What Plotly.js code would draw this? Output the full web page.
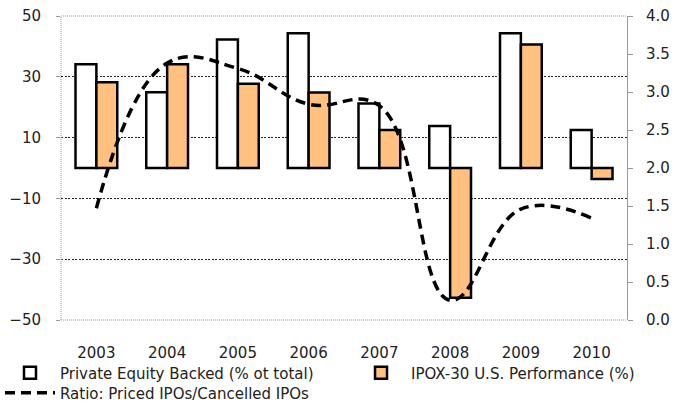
<!DOCTYPE html>
<html>
<head>
<meta charset="utf-8">
<script src="https://cdn.plot.ly/plotly-3.0.1.min.js"></script>
<style>html,body{margin:0;padding:0;background:#fff;}#chart{width:683px;height:404px;}</style>
</head>
<body>
<div id="chart"></div>
<script>
var years = ['2003','2004','2005','2006','2007','2008','2009','2010'];
var privateEquity = [34.1, 24.9, 42.3, 44.3, 21.2, 13.8, 44.3, 12.5];
var ipoxPerformance = [28.2, 34.1, 27.7, 24.8, 12.5, -42.7, 40.6, -3.6];
var ratioPricedCancelled = [1.47, 3.38, 3.31, 2.84, 2.82, 0.26, 1.46, 1.34];

var boundaries = years.slice(0, -1).map(function (_, i) { return i + 0.5; });

var fam = 'DejaVu Sans, Verdana, sans-serif';
var tickFont = {family: fam, size: 15, color: '#222'};
var legFont = {family: fam, size: 15, color: '#222'};

var traces = [
  {type: 'bar', x: years, y: privateEquity, name: 'Private Equity Backed (% ot total)',
   marker: {color: '#ffffff', line: {color: '#000', width: 2.5}}, yaxis: 'y', legend: 'legend'},
  {type: 'bar', x: years, y: ipoxPerformance, name: 'IPOX-30 U.S. Performance (%)',
   marker: {color: '#FFC080', line: {color: '#000', width: 2.5}}, yaxis: 'y', legend: 'legend2'},
  {type: 'scatter', mode: 'lines', x: years, y: ratioPricedCancelled, name: 'Ratio: Priced IPOs/Cancelled IPOs',
   line: {color: '#000', width: 3.5, dash: '10px,6px', shape: 'spline', smoothing: 1.2}, yaxis: 'y2', legend: 'legend3'}
];

var borderLine = {color: '#999', width: 1, dash: '1px,1px'};
var legBase = {orientation: 'v', xanchor: 'left', yanchor: 'middle', itemwidth: 50, tracegroupgap: 0,
               font: legFont, bgcolor: 'rgba(0,0,0,0)'};

var layout = {
  width: 683, height: 404,
  margin: {l: 61, r: 56, t: 16, b: 84, autoexpand: false},
  paper_bgcolor: '#fff', plot_bgcolor: '#fff',
  font: {family: fam, size: 13, color: '#222'},
  showlegend: true,
  barmode: 'group', bargap: 0.41, bargroupgap: 0,
  xaxis: {type: 'category', showgrid: false, showline: false, zeroline: false, ticks: '',
          tickfont: tickFont, ticklabelstandoff: 22, tickangle: 0},
  xaxis2: {overlaying: 'x', anchor: 'free', position: 0.5, range: [-0.5, 7.5], showgrid: false,
           zeroline: false, showline: true, linecolor: '#888', linewidth: 1.5,
           ticks: 'outside', ticklen: 4, tickcolor: '#888', tickvals: boundaries, showticklabels: false},
  yaxis: {range: [-50, 50], tick0: -50, dtick: 20, showgrid: true, gridcolor: '#222', griddash: '2px,1.5px', gridwidth: 1.3,
          zeroline: false, showline: false, ticks: 'outside', ticklen: 4, tickcolor: '#999',
          tickfont: tickFont, ticklabelstandoff: 12},
  yaxis2: {overlaying: 'y', side: 'right', range: [0, 4], dtick: 0.5, tickformat: '.1f', showgrid: false, zeroline: false,
           showline: true, linecolor: '#999', linewidth: 1, ticks: 'outside', ticklen: 5, tickcolor: '#999',
           tickfont: tickFont, ticklabelstandoff: 10},
  shapes: [
    {type: 'line', xref: 'paper', yref: 'paper', x0: 0, x1: 1, y0: 1, y1: 1, line: borderLine, layer: 'above'},
    {type: 'line', xref: 'paper', yref: 'paper', x0: 0, x1: 1, y0: 0, y1: 0, line: borderLine, layer: 'above'},
    {type: 'line', xref: 'paper', yref: 'paper', x0: 0, x1: 0, y0: 0, y1: 1, line: borderLine, layer: 'above'}
  ],
  legend: Object.assign({}, legBase, {x: -0.1078, y: -0.1743}),
  legend2: Object.assign({}, legBase, {x: 0.5124, y: -0.1743}),
  legend3: Object.assign({}, legBase, {x: -0.1078, y: -0.2401})
};

Plotly.newPlot('chart', traces, layout, {displayModeBar: false, staticPlot: true});
</script>
</body>
</html>
